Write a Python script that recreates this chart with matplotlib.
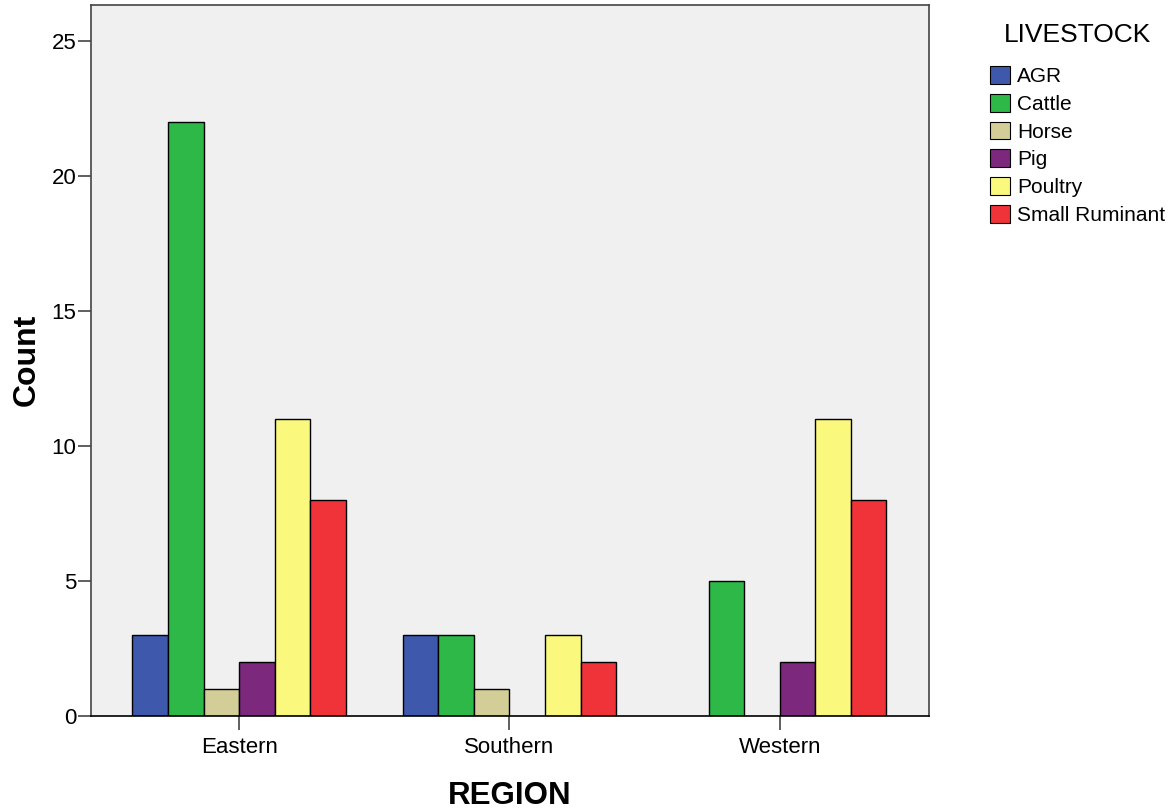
import numpy as np
import matplotlib.pyplot as plt
from matplotlib.patches import Patch

plt.rcParams['font.family'] = ['Liberation Sans', 'DejaVu Sans']

regions = ['Eastern', 'Southern', 'Western']
livestock = ['AGR', 'Cattle', 'Horse', 'Pig', 'Poultry', 'Small Ruminant']
agr = [3, 3, 0]
cattle = [22, 3, 5]
horse = [1, 1, 0]
pig = [2, 0, 2]
poultry = [11, 3, 11]
small_ruminant = [8, 2, 8]
colors = ['#3E58AC', '#2EB848', '#D3CE97', '#7B287D', '#FBF87E', '#EF3338']

series = [agr, cattle, horse, pig, poultry, small_ruminant]

fig = plt.figure(figsize=(11.71, 8.11), dpi=100)
ax = fig.add_axes([0.0777, 0.1171, 0.7156, 0.8767])
ax.set_facecolor('#F0F0F0')

x = np.arange(len(regions))
width = 0.1315
for i, (vals, col) in enumerate(zip(series, colors)):
    offs = (i - 2.5) * width
    for xi, v in zip(x, vals):
        # empty cells are simply not drawn
        if v > 0:
            ax.bar(xi + offs, v, width, color=col, edgecolor='black', linewidth=1.0)

ax.set_xlim(-0.548, 2.552)
ax.set_ylim(0, 26.33)
ax.set_yticks([0, 5, 10, 15, 20, 25])
ax.set_xticks(x)
ax.set_xticklabels(regions)
ax.tick_params(axis='both', labelsize=16, colors='#444444', labelcolor='black')
ax.tick_params(axis='y', length=9.5, width=1.2, pad=1)
ax.tick_params(axis='x', length=10, width=1.2, pad=5)
for s in ax.spines.values():
    s.set_color('#444444')
    s.set_linewidth(1.2)
ax.spines['bottom'].set_color('black')

fig.text(0.023, 0.556, 'Count', rotation=90, ha='center', va='center',
         fontsize=23, fontweight='bold')
fig.text(0.4355, 0.019, 'REGION', ha='center', va='center',
         fontsize=22.5, fontweight='bold')

fig.text(1077 / 1171, 1 - 35 / 811, 'LIVESTOCK', ha='center', va='center',
         fontsize=19)
handles = [Patch(facecolor=c, edgecolor='black', linewidth=0.8) for c in colors]
leg = fig.legend(handles, livestock, loc='upper left',
                 bbox_to_anchor=(990 / 1171, 1 - 66 / 811), frameon=False,
                 fontsize=15,
                 handlelength=0.95, handleheight=0.95, handletextpad=0.35,
                 labelspacing=0.365, borderaxespad=0, borderpad=0)

fig.savefig('out.png', dpi=100)
